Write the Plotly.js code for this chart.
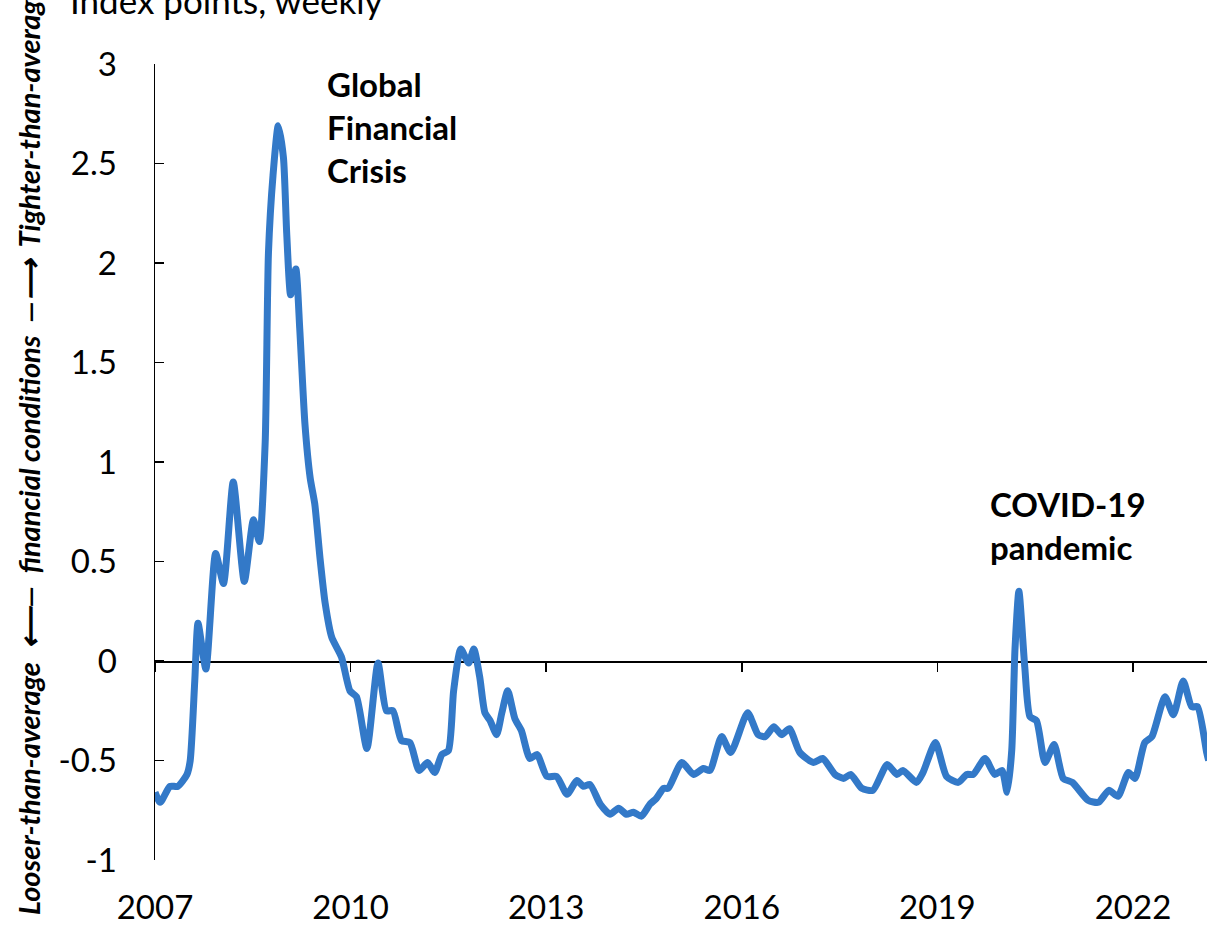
<!DOCTYPE html>
<html>
<head>
<meta charset="utf-8">
<script src="https://cdn.plot.ly/plotly-3.0.1.min.js"></script>
<style>
  html, body { margin: 0; padding: 0; background: #ffffff; }
  #chart { width: 1207px; height: 926px; }
</style>
</head>
<body>
<div id="chart"></div>
<script>
// Financial conditions index, index points, weekly
const years = [
  2007.00, 2007.08, 2007.23, 2007.35, 2007.49, 2007.54, 2007.61, 2007.66, 2007.78, 2007.93,
  2008.05, 2008.20, 2008.37, 2008.51, 2008.60, 2008.69, 2008.74, 2008.81, 2008.89, 2008.97,
  2009.02, 2009.08, 2009.16, 2009.22, 2009.30, 2009.38, 2009.45, 2009.53, 2009.61, 2009.71,
  2009.86, 2009.99, 2010.09, 2010.25, 2010.42, 2010.55, 2010.65, 2010.78, 2010.91, 2011.05,
  2011.18, 2011.29, 2011.40, 2011.50, 2011.58, 2011.69, 2011.81, 2011.89, 2011.98, 2012.06,
  2012.14, 2012.24, 2012.32, 2012.41, 2012.52, 2012.62, 2012.75, 2012.86, 2013.01, 2013.16,
  2013.32, 2013.47, 2013.57, 2013.67, 2013.83, 2013.98, 2014.11, 2014.23, 2014.34, 2014.46,
  2014.59, 2014.69, 2014.80, 2014.87, 2015.08, 2015.26, 2015.41, 2015.51, 2015.69, 2015.83,
  2016.09, 2016.25, 2016.36, 2016.49, 2016.61, 2016.73, 2016.89, 2017.10, 2017.24, 2017.43,
  2017.56, 2017.67, 2017.84, 2018.01, 2018.23, 2018.38, 2018.47, 2018.68, 2018.78, 2018.97,
  2019.14, 2019.32, 2019.45, 2019.55, 2019.73, 2019.88, 2019.99, 2020.07, 2020.14, 2020.19,
  2020.25, 2020.34, 2020.42, 2020.52, 2020.65, 2020.79, 2020.93, 2021.07, 2021.31, 2021.47,
  2021.63, 2021.77, 2021.93, 2022.03, 2022.18, 2022.29, 2022.49, 2022.62, 2022.77, 2022.90,
  2022.99, 2023.13, 2023.16
];
const indexValues = [
  -0.66, -0.71, -0.63, -0.63, -0.57, -0.50, -0.10, 0.19, -0.04, 0.54,
  0.39, 0.90, 0.40, 0.71, 0.60, 1.10, 2.05, 2.44, 2.69, 2.53,
  2.15, 1.84, 1.97, 1.67, 1.19, 0.92, 0.79, 0.52, 0.29, 0.12,
  0.02, -0.15, -0.18, -0.44, -0.01, -0.25, -0.25, -0.40, -0.41, -0.55,
  -0.51, -0.56, -0.47, -0.45, -0.15, 0.06, -0.01, 0.06, -0.08, -0.26,
  -0.30, -0.37, -0.26, -0.15, -0.29, -0.35, -0.49, -0.47, -0.58, -0.58,
  -0.67, -0.60, -0.63, -0.62, -0.72, -0.77, -0.74, -0.77, -0.76, -0.78,
  -0.72, -0.69, -0.64, -0.64, -0.51, -0.57, -0.54, -0.55, -0.38, -0.46,
  -0.26, -0.37, -0.38, -0.33, -0.37, -0.34, -0.46, -0.51, -0.49, -0.57,
  -0.59, -0.57, -0.64, -0.65, -0.52, -0.57, -0.55, -0.61, -0.56, -0.41,
  -0.58, -0.61, -0.57, -0.57, -0.49, -0.57, -0.55, -0.66, -0.45, 0.06,
  0.35, -0.03, -0.28, -0.30, -0.51, -0.42, -0.59, -0.61, -0.70, -0.71,
  -0.65, -0.68, -0.56, -0.59, -0.41, -0.38, -0.18, -0.27, -0.10, -0.23,
  -0.23, -0.46, -0.50
];
const tickYears = [2007, 2010, 2013, 2016, 2019, 2022];
const tickLabels = ["2007", "2010", "2013", "2016", "2019", "2022"];
const yTicks = [3, 2.5, 2, 1.5, 1, 0.5, 0, -0.5, -1];
const yTickLabels = ["3", "2.5", "2", "1.5", "1", "0.5", "0", "-0.5", "-1"];
const xRange = [2007, 2023.135];
const yRange = [-1, 3];

const FONT = "Lato, 'Open Sans', 'Noto Sans', sans-serif";
const LINE_BLUE = "#3379c8";

const traces = [
  {
    x: years, y: indexValues, type: "scatter", mode: "lines",
    line: { color: LINE_BLUE, width: 7, shape: "spline", smoothing: 0.6 },
    hoverinfo: "skip", showlegend: false, xaxis: "x", yaxis: "y"
  },
  {
    x: [xRange[0]], y: [0], type: "scatter", mode: "lines",
    line: { width: 0 }, opacity: 0, hoverinfo: "skip", showlegend: false,
    xaxis: "x2", yaxis: "y"
  }
];

const layout = {
  width: 1207, height: 926,
  margin: { l: 155, r: 0, t: 64, b: 66, pad: 0 },
  paper_bgcolor: "#ffffff", plot_bgcolor: "#ffffff",
  font: { family: FONT, color: "#000000", size: 33 },
  showlegend: false,
  xaxis: {
    range: xRange, tickvals: tickYears, ticktext: tickLabels,
    showline: false, ticks: "", showgrid: false, zeroline: false,
    tickfont: { family: FONT, size: 33, color: "#000000" },
    ticklabelstandoff: 25, fixedrange: true
  },
  xaxis2: {
    overlaying: "x", anchor: "free", position: 0.25, range: xRange,
    tickvals: tickYears, showticklabels: false,
    showline: true, linecolor: "#000000", linewidth: 1.5,
    ticks: "outside", ticklen: 9, tickwidth: 1.5, tickcolor: "#000000",
    showgrid: false, zeroline: false, layer: "below traces", fixedrange: true
  },
  yaxis: {
    range: yRange, tickvals: yTicks, ticktext: yTickLabels,
    showline: true, linecolor: "#000000", linewidth: 1.5,
    ticks: "inside", ticklen: 9, tickwidth: 1.5, tickcolor: "#000000",
    showgrid: false, zeroline: false, layer: "below traces",
    tickfont: { family: FONT, size: 33, color: "#000000" },
    ticklabelstandoff: 30, fixedrange: true
  },
  annotations: [
    {
      text: "Index points, weekly", xref: "paper", yref: "paper",
      x: -0.0827, y: 1.052, xanchor: "left", yanchor: "bottom", showarrow: false,
      font: { family: FONT, size: 35, color: "#000000" }
    },
    {
      text: "<b>Global<br>Financial<br>Crisis</b>", xref: "paper", yref: "paper",
      x: (325 - 155) / 1052, y: 1 - (62 - 64) / 796, xanchor: "left", yanchor: "top",
      align: "left", showarrow: false,
      font: { family: FONT, size: 33, color: "#000000" }
    },
    {
      text: "<b>COVID-19<br>pandemic</b>", xref: "paper", yref: "paper",
      x: (988 - 155) / 1052, y: 1 - (482 - 64) / 796, xanchor: "left", yanchor: "top",
      align: "left", showarrow: false,
      font: { family: FONT, size: 33, color: "#000000" }
    },
    {
      text: "<b><i>Looser-than-average \u00A0\u27F5\u2014\u00A0 financial conditions \u00A0\u2014\u27F6\u00A0 Tighter-than-average</i></b>",
      xref: "paper", yref: "paper", textangle: -90,
      x: (28 - 155) / 1052, y: (860 - 451) / 796, xanchor: "center", yanchor: "middle",
      showarrow: false,
      font: { family: FONT, size: 29, color: "#000000" }
    }
  ]
};

Plotly.newPlot("chart", traces, layout, { displayModeBar: false, staticPlot: true });
</script>
</body>
</html>
